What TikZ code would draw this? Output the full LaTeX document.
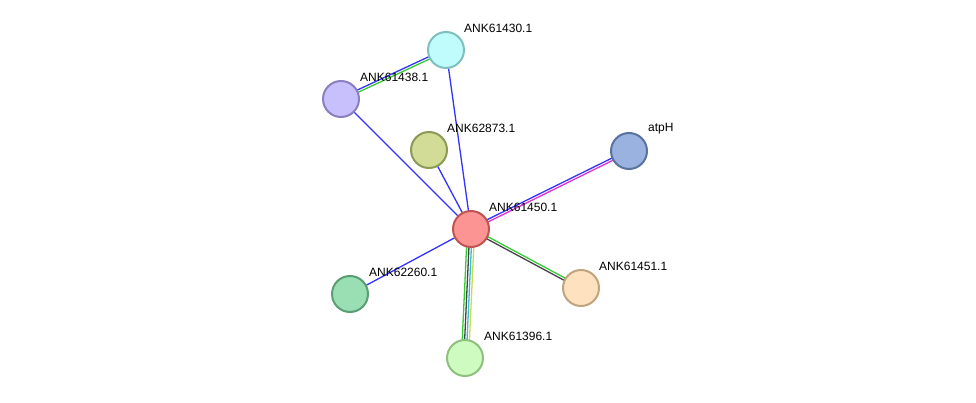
\documentclass[tikz,border=0pt]{standalone}
\usepackage{fontspec}
\setmainfont{Liberation Sans}
\usetikzlibrary{calc,backgrounds}
\definecolor{eblue}{HTML}{3333FF}
\definecolor{egreen}{HTML}{33CC33}
\definecolor{egray}{HTML}{444444}
\definecolor{emag}{HTML}{DD33DD}
\definecolor{ecyan}{HTML}{33BBDD}
\definecolor{eyellow}{HTML}{CCDD44}
\definecolor{fA}{HTML}{C0FCFC}\definecolor{sA}{HTML}{7FBFBF}
\definecolor{fB}{HTML}{C8C0FC}\definecolor{sB}{HTML}{8A7FC0}
\definecolor{fC}{HTML}{D2DC96}\definecolor{sC}{HTML}{8C9A58}
\definecolor{fD}{HTML}{9AB2E0}\definecolor{sD}{HTML}{5A729E}
\definecolor{fE}{HTML}{FC9494}\definecolor{sE}{HTML}{C05454}
\definecolor{fF}{HTML}{9ADEB4}\definecolor{sF}{HTML}{5A9E74}
\definecolor{fG}{HTML}{FEE2C0}\definecolor{sG}{HTML}{C0A47F}
\definecolor{fH}{HTML}{CEFCC0}\definecolor{sH}{HTML}{8EC07F}
\tikzset{
  prot/.style={circle,minimum size=36pt,inner sep=0pt,line width=2pt},
  lab/.style={anchor=west,font=\fontsize{12pt}{14pt}\selectfont,inner sep=0pt},
  edge/.style={line width=1.3pt}
}
\newcommand{\offedge}[4]{%
  \draw[edge,#4] ($(#1.center)!#3!90:(#2.center)$) -- ($(#2.center)!#3!-90:(#1.center)$);}
\begin{document}
\begin{tikzpicture}[x=1pt,y=-1pt]
\useasboundingbox (0,0) rectangle (976,403);
\node[prot,fill=fA,draw=sA] (n430) at (446,50) {};
\node[prot,fill=fB,draw=sB] (n438) at (341,99) {};
\node[prot,fill=fC,draw=sC] (n873) at (429,150) {};
\node[prot,fill=fD,draw=sD] (atp) at (629,151) {};
\node[prot,fill=fE,draw=sE] (n450) at (471,229) {};
\node[prot,fill=fF,draw=sF] (n260) at (350,294) {};
\node[prot,fill=fG,draw=sG] (n451) at (581,288) {};
\node[prot,fill=fH,draw=sH] (n396) at (465,358) {};
\node[lab] (l430) at (464,28) {ANK61430.1};
\node[lab] (l438) at (360,77) {ANK61438.1};
\node[lab] (l873) at (447,128) {ANK62873.1};
\node[lab] (latp) at (648,129) {atpH};
\node[lab] (l450) at (489,207) {ANK61450.1};
\node[lab] (l260) at (369,272) {ANK62260.1};
\node[lab] (l451) at (599,266) {ANK61451.1};
\node[lab] (l396) at (484,336) {ANK61396.1};
\begin{pgfonlayer}{background}
\offedge{n438}{n430}{1.2pt}{eblue}
\offedge{n438}{n430}{-1.2pt}{egreen}
\draw[edge,eblue] (n430.center) -- (n450.center);
\draw[edge,eblue] (n438.center) -- (n450.center);
\draw[edge,eblue] (n873.center) -- (n450.center);
\draw[edge,eblue] (n260.center) -- (n450.center);
\offedge{n450}{atp}{1.2pt}{eblue}
\offedge{n450}{atp}{-1.2pt}{emag}
\offedge{n450}{n451}{1.2pt}{egreen}
\offedge{n450}{n451}{-1.2pt}{egray}
\offedge{n450}{n396}{-3.6pt}{egreen}
\offedge{n450}{n396}{-1.2pt}{egray}
\offedge{n450}{n396}{1.2pt}{ecyan}
\offedge{n450}{n396}{3.6pt}{eyellow}
\end{pgfonlayer}
\end{tikzpicture}
\end{document}
